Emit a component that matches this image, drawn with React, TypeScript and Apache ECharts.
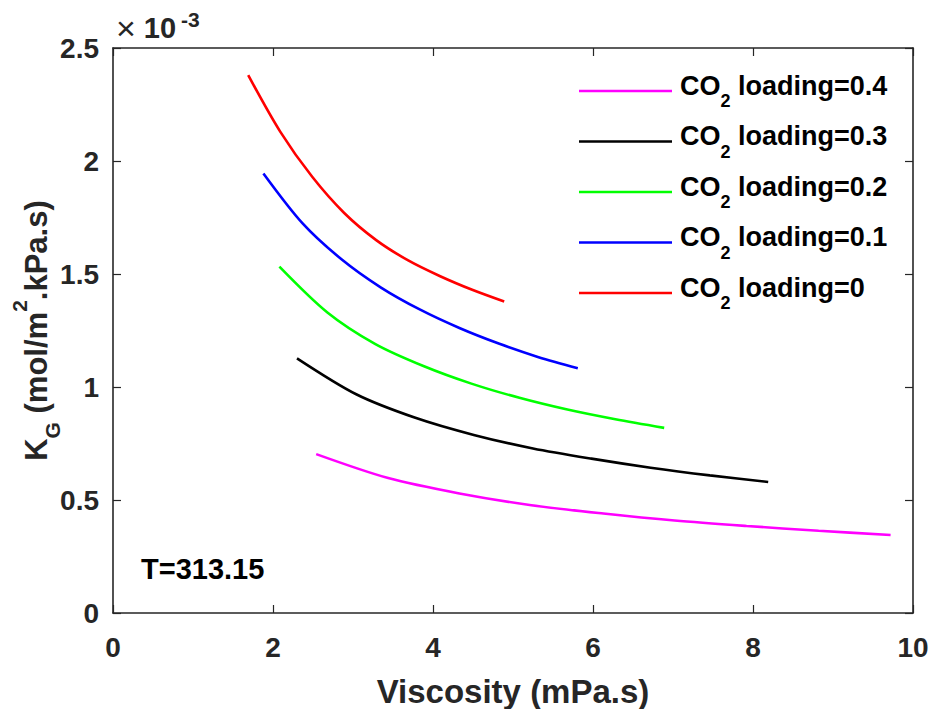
import React, { useEffect, useRef } from "react";
import * as echarts from "echarts";

// K_G values are in units of 1e-3 mol/(m^2.kPa.s); viscosity in mPa.s
const loading04: [number, number][] = [
  [2.54, 0.703], [3.44, 0.597], [4.33, 0.529], [5.23, 0.477],
  [6.13, 0.440], [7.02, 0.409], [7.92, 0.385], [8.82, 0.364], [9.72, 0.345],
];
const loading03: [number, number][] = [
  [2.30, 1.127], [3.04, 0.968], [3.77, 0.865], [4.51, 0.788],
  [5.25, 0.728], [5.98, 0.683], [6.72, 0.643], [7.46, 0.609], [8.19, 0.580],
];
const loading02: [number, number][] = [
  [2.08, 1.533], [2.68, 1.330], [3.28, 1.190], [3.88, 1.093],
  [4.48, 1.015], [5.08, 0.952], [5.68, 0.900], [6.28, 0.857], [6.89, 0.819],
];
const loading01: [number, number][] = [
  [1.88, 1.945], [2.37, 1.724], [2.86, 1.564], [3.35, 1.440],
  [3.84, 1.342], [4.33, 1.261], [4.83, 1.191], [5.32, 1.132], [5.81, 1.083],
];
const loading00: [number, number][] = [
  [1.69, 2.380], [2.09, 2.130], [2.49, 1.930], [2.89, 1.770],
  [3.29, 1.650], [3.69, 1.560], [4.09, 1.490], [4.49, 1.430], [4.89, 1.378],
];

const seriesNames = [
  "CO2 loading=0.4",
  "CO2 loading=0.3",
  "CO2 loading=0.2",
  "CO2 loading=0.1",
  "CO2 loading=0",
];
const seriesData = [loading04, loading03, loading02, loading01, loading00];
const seriesColors = ["#ff00ff", "#000000", "#00ff00", "#0000ff", "#ff0000"];

const xTicks = [0, 2, 4, 6, 8, 10];
const yTicks = [0, 0.5, 1, 1.5, 2, 2.5];

const FONT = "'Liberation Sans', Arial, Helvetica, sans-serif";
const AXIS_COLOR = "#262626";

export default function App() {
  const ref = useRef<HTMLDivElement>(null);

  useEffect(() => {
    if (!ref.current) return;
    const chart = echarts.init(ref.current, null, { renderer: "svg" });

    const boxAxis = {
      axisLine: { show: true, onZero: false, lineStyle: { color: AXIS_COLOR, width: 1.6 } },
      axisTick: { show: true, inside: true, length: 8, lineStyle: { color: AXIS_COLOR, width: 1.2 } },
      splitLine: { show: false },
    };
    const tickFont = {
      fontFamily: FONT,
      fontWeight: "bold" as const,
      fontSize: 28,
      color: AXIS_COLOR,
    };
    const legendMain = {
      fontFamily: FONT,
      fontWeight: "bold" as const,
      fontSize: 27,
      color: "#000000",
      lineHeight: 38,
      verticalAlign: "top" as const,
    };

    chart.setOption({
      animation: false,
      backgroundColor: "#ffffff",
      grid: {
        left: 113,
        right: 24,
        top: 48,
        bottom: 104,
        containLabel: false,
        outerBoundsMode: "none",
      },
      xAxis: [
        {
          type: "value",
          min: xTicks[0],
          max: xTicks[xTicks.length - 1],
          interval: xTicks[1] - xTicks[0],
          position: "bottom",
          ...boxAxis,
          axisLabel: { ...tickFont, margin: 20 },
          name: "Viscosity (mPa.s)",
          nameLocation: "middle",
          nameGap: 62,
          nameMoveOverlap: false,
          nameTextStyle: { fontFamily: FONT, fontWeight: "bold", fontSize: 33, color: AXIS_COLOR },
        },
        {
          type: "value",
          min: xTicks[0],
          max: xTicks[xTicks.length - 1],
          interval: xTicks[1] - xTicks[0],
          position: "top",
          ...boxAxis,
          axisLabel: { show: false },
        },
      ],
      yAxis: [
        {
          type: "value",
          min: yTicks[0],
          max: yTicks[yTicks.length - 1],
          interval: yTicks[1] - yTicks[0],
          position: "left",
          ...boxAxis,
          axisLabel: { ...tickFont, margin: 14 },
          name: "{m|K}{sub|G}{m| (mol/m}{sup|2}{m|.kPa.s)}",
          nameLocation: "middle",
          nameRotate: 90,
          nameGap: 50,
          nameMoveOverlap: false,
          nameTextStyle: {
            fontFamily: FONT,
            fontWeight: "bold",
            fontSize: 31,
            color: AXIS_COLOR,
            rich: {
              m: { fontFamily: FONT, fontWeight: "bold", fontSize: 31, color: AXIS_COLOR, lineHeight: 54 },
              sub: { fontFamily: FONT, fontWeight: "bold", fontSize: 21, color: AXIS_COLOR, verticalAlign: "bottom", lineHeight: 21 },
              sup: { fontFamily: FONT, fontWeight: "bold", fontSize: 21, color: AXIS_COLOR, verticalAlign: "top", lineHeight: 21 },
            },
          },
        },
        {
          type: "value",
          min: yTicks[0],
          max: yTicks[yTicks.length - 1],
          interval: yTicks[1] - yTicks[0],
          position: "right",
          ...boxAxis,
          axisLabel: { show: false },
        },
      ],
      legend: {
        show: true,
        orient: "vertical",
        left: 579,
        top: 72,
        padding: 0,
        itemWidth: 93,
        itemHeight: 14,
        itemGap: 12.5,
        data: seriesNames.map((n, i) => ({
          name: n,
          icon: "path://M0,0 L93,0 L93,2.6 L0,2.6 Z",
          itemStyle: { color: seriesColors[i] },
        })),
        formatter: (name: string) => `{c|CO}{s|2}{a|${name.replace("CO2", "")}}`,
        textStyle: {
          fontFamily: FONT,
          fontWeight: "bold",
          fontSize: 27,
          color: "#000000",
          rich: {
            c: { ...legendMain, padding: [0, 0, 0, 3] },
            a: legendMain,
            s: { fontFamily: FONT, fontWeight: "bold", fontSize: 18, color: "#000000", lineHeight: 18, verticalAlign: "bottom" },
          },
        },
      },
      graphic: [
        {
          type: "text",
          left: 116,
          top: 9,
          style: {
            text: "{x|×}{n|10}{e|-3}",
            rich: {
              x: { fontFamily: FONT, fontSize: 34, fill: AXIS_COLOR, lineHeight: 38 },
              n: { fontFamily: FONT, fontWeight: "bold", fontSize: 29, fill: AXIS_COLOR, lineHeight: 38, padding: [0, 0, 0, 8] },
              e: { fontFamily: FONT, fontWeight: "bold", fontSize: 21, fill: AXIS_COLOR, lineHeight: 21, verticalAlign: "top", padding: [0, 0, 0, 5] },
            },
          },
        },
        {
          type: "text",
          left: 141,
          top: 554,
          style: {
            text: "T=313.15",
            fontFamily: FONT,
            fontWeight: "bold",
            fontSize: 29,
            fill: "#000000",
          },
        },
      ],
      series: seriesNames.map((name, i) => ({
        name,
        type: "line",
        xAxisIndex: 0,
        yAxisIndex: 0,
        data: seriesData[i],
        smooth: 0.3,
        showSymbol: false,
        symbol: "none",
        lineStyle: { color: seriesColors[i], width: 2.6 },
        itemStyle: { color: seriesColors[i] },
      })),
    });

    return () => chart.dispose();
  }, []);

  return <div ref={ref} style={{ width: 937, height: 717, margin: -8 }} />;
}
